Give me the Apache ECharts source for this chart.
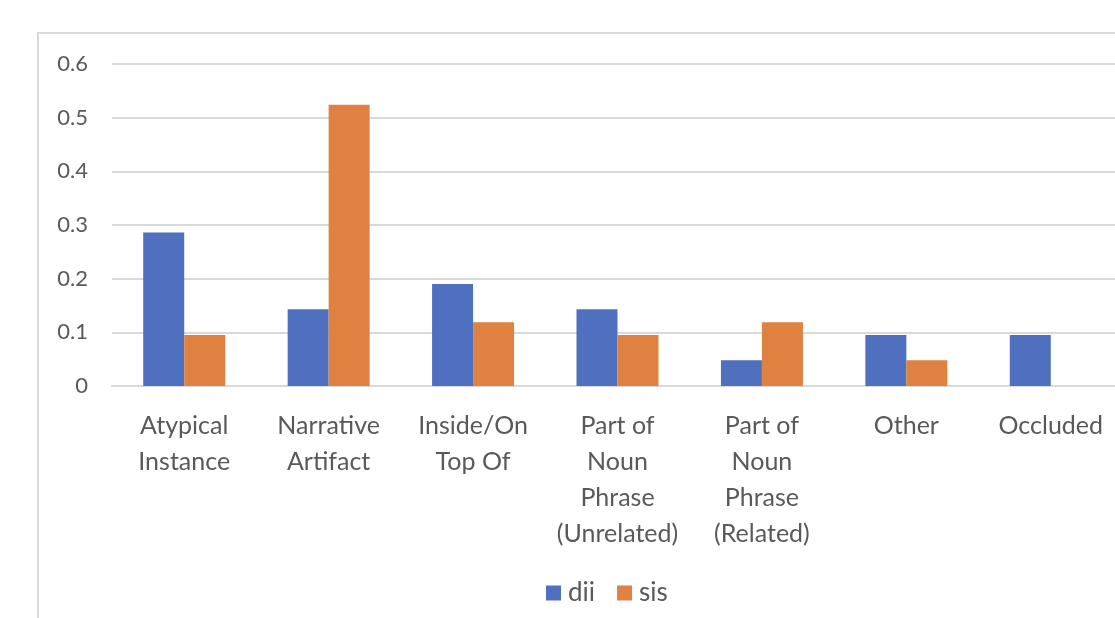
<!DOCTYPE html>
<html>
<head>
<meta charset="utf-8">
<script src="https://cdn.jsdelivr.net/npm/echarts@6/dist/echarts.min.js"></script>
<style>
  html, body { margin: 0; padding: 0; background: #ffffff; overflow: hidden; }
  /* a bit wider than the window: the plot runs past the right edge in the original */
  #chart { width: 1124px; height: 618px; }
</style>
</head>
<body>
<div id="chart"></div>
<script>
// categories and values
var categories = ['Atypical\nInstance', 'Narrative\nArtifact', 'Inside/On\nTop Of',
    'Part of\nNoun\nPhrase\n(Unrelated)', 'Part of\nNoun\nPhrase\n(Related)', 'Other', 'Occluded'];
var diiValues = [0.286, 0.143, 0.190, 0.143, 0.048, 0.095, 0.095];
var sisValues = [0.095, 0.524, 0.119, 0.095, 0.119, 0.048, 0];
var seriesNames = ['dii', 'sis'];

var textColor = '#595959';
var lineColor = '#d9d9d9';
var fontName = 'Lato, "Open Sans", sans-serif';

var chart = echarts.init(document.getElementById('chart'), null, {renderer: 'canvas'});

var option = {
    backgroundColor: '#ffffff',
    animation: false,
    // chart frame, cut off at right and bottom like the screenshot
    graphic: [{
        type: 'rect',
        shape: {x: 38, y: 33, width: 1200, height: 700},
        style: {fill: 'none', stroke: lineColor, lineWidth: 2},
        silent: true
    }],
    grid: {
        left: 112,
        top: 64,
        width: 1011,
        height: 322
    },
    legend: {
        data: seriesNames,
        left: 541,
        top: 575,
        itemWidth: 15,
        itemHeight: 15,
        itemGap: 22,
        icon: 'rect',
        textStyle: {color: textColor, fontSize: 26, fontFamily: fontName, padding: [0, 0, 0, 2]}
    },
    xAxis: {
        type: 'category',
        data: categories,
        axisLine: {show: true, lineStyle: {color: lineColor, width: 2}},
        axisTick: {show: false},
        axisLabel: {
            color: textColor,
            fontSize: 25,
            fontFamily: fontName,
            lineHeight: 36,
            margin: 22,
            interval: 0
        }
    },
    yAxis: {
        type: 'value',
        min: 0,
        max: 0.6,
        interval: 0.1,
        axisLine: {show: false},
        axisTick: {show: false},
        splitLine: {lineStyle: {color: lineColor, width: 2}},
        axisLabel: {
            color: textColor,
            fontSize: 22,
            fontFamily: fontName,
            margin: 24,
            formatter: function (v) {
                return v === 0 ? '0' : v.toFixed(1);
            }
        }
    },
    series: [
        {
            name: seriesNames[0],
            type: 'bar',
            data: diiValues,
            barWidth: 41,
            barGap: '0%',
            itemStyle: {color: '#4f70be'}
        },
        {
            name: seriesNames[1],
            type: 'bar',
            data: sisValues,
            barWidth: 41,
            barGap: '0%',
            itemStyle: {color: '#df8241'}
        }
    ]
};

chart.setOption(option);
</script>
</body>
</html>
